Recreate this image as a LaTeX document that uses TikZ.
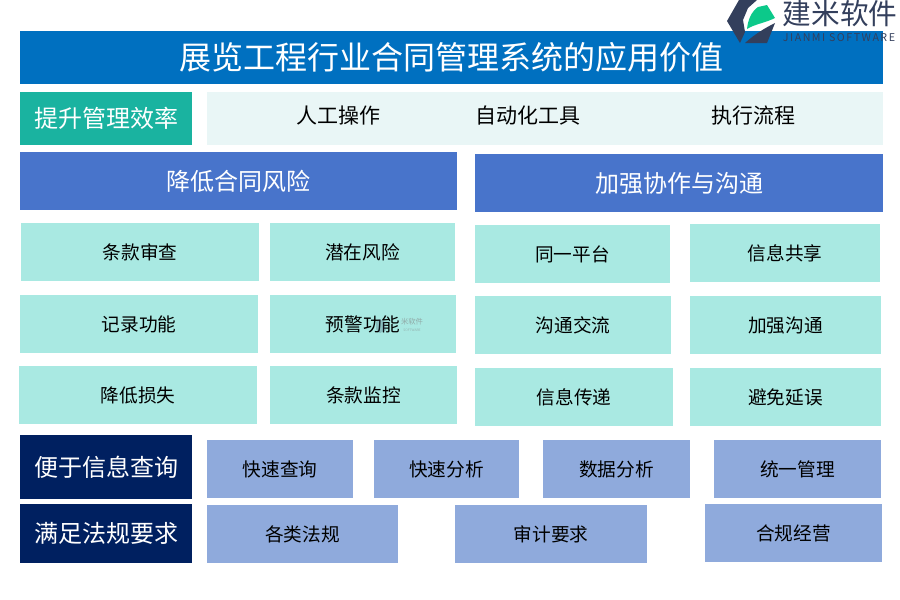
\documentclass[tikz,border=0pt]{standalone}
\usepackage{fontspec}
\setmainfont{Noto Sans CJK SC}
\usepackage{xcolor}
\usetikzlibrary{positioning}
\definecolor{TitleBlue}{HTML}{0070C0}
\definecolor{SectionBlue}{HTML}{4874CB}
\definecolor{Teal}{HTML}{1AB3A0}
\definecolor{PaleTeal}{HTML}{E9F6F6}
\definecolor{Mint}{HTML}{A9E9E2}
\definecolor{Navy}{HTML}{002060}
\definecolor{Periwinkle}{HTML}{8FAADC}
\definecolor{LogoDark}{HTML}{333F5C}
\definecolor{LogoGreen}{HTML}{0CC98A}

\begin{document}
\begin{tikzpicture}[
    x=0.75pt, y=-0.75pt,
    box/.style={inner sep=0pt, outer sep=0pt, align=center, anchor=north west},
    titlebox/.style={box, fill=TitleBlue, text=white, font=\fontsize{24}{28}\selectfont},
    sidebox/.style={box, text=white, minimum width=129pt, font=\fontsize{18}{22}\selectfont},
    headbox/.style={box, fill=SectionBlue, text=white, minimum height=43.5pt, font=\fontsize{18}{22}\selectfont},
    cell/.style={box, fill=Mint, minimum height=43.5pt, font=\fontsize{14}{18}\selectfont},
    lowcell/.style={box, fill=Periwinkle, minimum height=43.5pt, font=\fontsize{14}{18}\selectfont},
    flowtext/.style={inner sep=0pt, font=\fontsize{15.75}{18}\selectfont}]

    \useasboundingbox (0,0) rectangle (900,600);

    \node at (20,31)[titlebox, minimum width=647.25pt, minimum height=39.75pt] (title) {展览工程行业合同管理系统的应用价值};

    %%% Efficiency row
    \node at (20,92)[sidebox, fill=Teal, minimum height=39.75pt] (efficiency) {提升管理效率};
    \node at (207,92)[box, fill=PaleTeal, minimum width=507pt, minimum height=39.75pt] (flowband) {};
    \node at (338,116)[flowtext] (manual) {人工操作};
    \node at (528,116)[flowtext] (autotool) {自动化工具};
    \node at (753,116)[flowtext] (process) {执行流程};

    %%% Two sections
    \node at (20,152)[headbox, minimum width=327.75pt] (risk) {降低合同风险};
    \node at (475,154)[headbox, minimum width=306pt] (teamwork) {加强协作与沟通};

    \node at (21,223)[cell, minimum width=178.5pt] (review) {条款审查};
    \node at (270,223)[cell, minimum width=138.75pt] (hidden) {潜在风险};
    \node at (20,295)[cell, minimum width=178.5pt] (record) {记录功能};
    \node at (270,295)[cell, minimum width=139.5pt] (warning) {预警功能};
    \node at (19,366)[cell, minimum width=178.5pt] (loss) {降低损失};
    \node at (270,366)[cell, minimum width=140.25pt] (monitor) {条款监控};

    \node at (475,225)[cell, minimum width=146.25pt] (platform) {同一平台};
    \node at (690,224)[cell, minimum width=142.5pt] (sharing) {信息共享};
    \node at (475,296)[cell, minimum width=147pt] (exchange) {沟通交流};
    \node at (690,296)[cell, minimum width=143.25pt] (stronger) {加强沟通};
    \node at (475,368)[cell, minimum width=148.5pt] (transfer) {信息传递};
    \node at (690,368)[cell, minimum width=143.25pt] (delay) {避免延误};

    %%% Watermark
    \fill[LogoDark, opacity=0.25] (376,322) -- (379,319) -- (384,321) -- (386,330) -- (380,333) -- (376,329) -- cycle;
    \node at (412,322)[inner sep=0pt, text=black!50, opacity=0.6, font=\fontsize{5.5}{7}\selectfont] (watermark) {米软件};
    \node at (412,330)[inner sep=0pt, text=black!50, opacity=0.5, font=\fontsize{2.5}{3}\selectfont] (watermarksub) {SOFTWARE};

    %%% Lower rows
    \node at (20,435)[sidebox, fill=Navy, minimum height=48pt] (query) {便于信息查询};
    \node at (207,440)[lowcell, minimum width=109.5pt] (fastquery) {快速查询};
    \node[lowcell, minimum width=108.75pt, anchor=west, right=15.75pt of fastquery] (fastanalysis) {快速分析};
    \node[lowcell, minimum width=110.25pt, anchor=west, right=18pt of fastanalysis] (dataanalysis) {数据分析};
    \node[lowcell, minimum width=125.25pt, anchor=west, right=18pt of dataanalysis] (unified) {统一管理};

    \node at (20,504)[sidebox, fill=Navy, minimum height=44.25pt] (legal) {满足法规要求};
    \node at (207,505)[lowcell, minimum width=143.25pt] (laws) {各类法规};
    \node[lowcell, minimum width=144pt, anchor=west, right=42.75pt of laws] (audit) {审计要求};
    \node at (705,504)[lowcell, minimum width=132.75pt] (compliance) {合规经营};

    %%% Logo
    \fill[LogoDark] (739,0) -- (757,0) -- (748,8) -- (743,20) -- (745,32) -- (740,43) -- (727,21) -- cycle;
    \fill[LogoGreen] (747,29) .. controls (748,20) and (751,12) .. (758,7) -- (767,5) -- (775,18) .. controls (765,23) and (755,24) .. (747,29) -- cycle;
    \fill[LogoDark] (745,43) .. controls (755,34) and (765,28) .. (775,23) -- (767,43) -- cycle;
    \node at (840,14)[inner sep=0pt, text=LogoDark, font=\fontsize{21.5}{24}\selectfont] (logoname) {建米软件};
    \node at (839,38)[inner sep=0pt, text=LogoDark, font=\fontsize{8}{9}\selectfont\addfontfeature{LetterSpace=14}] (logosub) {JIANMI SOFTWARE};
\end{tikzpicture}
\end{document}
